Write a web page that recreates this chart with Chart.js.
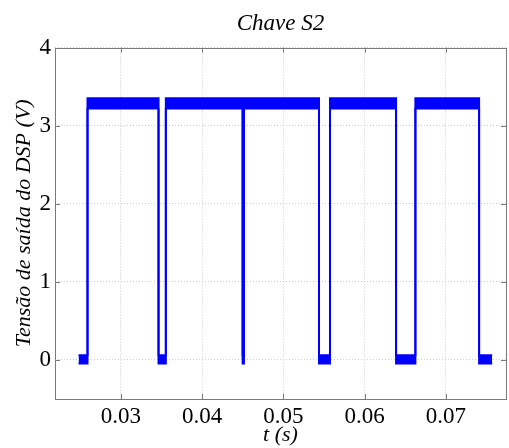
<!DOCTYPE html>
<html>
<head>
<meta charset="utf-8">
<script src="https://cdn.jsdelivr.net/npm/chart.js@4.4.0/dist/chart.umd.min.js"></script>
<style>
  body { margin: 0; background: #fff; }
  #wrap { width: 509px; height: 448px; }
</style>
</head>
<body>
<div id="wrap"><canvas id="chart" width="509" height="448"></canvas></div>
<script>
// switching instants (s)
const tStart = 0.0248
const tEnd = 0.0757
const riseT = [0.0259, 0.03554, 0.04515, 0.05574, 0.06625]
const fallT = [0.03464, 0.04499, 0.05439, 0.06387, 0.07409]

// noise band of each level (V): [bottom, top]
const lowBand = [-0.045, 0.06]
const highBand = [3.22, 3.35]

// axes
const xTicks = [0.03, 0.04, 0.05, 0.06, 0.07]
const yTicks = [0, 1, 2, 3, 4]
const xRange = [0.0219, 0.0774]
const yRange = [-0.5, 4]

const serif = "'Liberation Serif', 'Times New Roman', serif"
const blue = "#0000ff"

// envelope of the pulse train, one for the top edge and one for the bottom edge
const envelope = (k)=>{
  let pts = [{x: tStart, y: lowBand[k]}]
  riseT.forEach((r, i)=>{
    pts.push({x: r, y: lowBand[k]})
    pts.push({x: r, y: highBand[k]})
    pts.push({x: fallT[i], y: highBand[k]})
    pts.push({x: fallT[i], y: lowBand[k]})
  })
  pts.push({x: tEnd, y: lowBand[k]})
  return pts
}

// frame + inward tick marks like matlab
const framePlugin = {
  id: "frame",
  afterDatasetsDraw(chart){
    const {ctx, chartArea: a, scales} = chart
    ctx.save()
    ctx.strokeStyle = "#7a7a7a"
    ctx.lineWidth = 1
    ctx.beginPath()
    xTicks.forEach((v)=>{
      let px = Math.round(scales.x.getPixelForValue(v)) + 0.5
      ctx.moveTo(px, a.bottom); ctx.lineTo(px, a.bottom - 5)
      ctx.moveTo(px, a.top); ctx.lineTo(px, a.top + 5)
    })
    yTicks.forEach((v)=>{
      let py = Math.round(scales.y.getPixelForValue(v)) + 0.5
      ctx.moveTo(a.left, py); ctx.lineTo(a.left + 5, py)
      ctx.moveTo(a.right, py); ctx.lineTo(a.right - 5, py)
    })
    ctx.stroke()
    ctx.strokeRect(Math.round(a.left) + 0.5, Math.round(a.top) + 0.5,
      Math.round(a.right - a.left), Math.round(a.bottom - a.top))
    ctx.restore()
  }
}

new Chart(document.getElementById("chart").getContext("2d"), {
  type: "line",
  data: {
    datasets: [
      {
        data: envelope(1),
        borderColor: blue,
        borderWidth: 2,
        pointRadius: 0,
        fill: false,
        tension: 0,
      },
      {
        data: envelope(0),
        borderColor: blue,
        borderWidth: 2,
        pointRadius: 0,
        backgroundColor: blue,
        fill: "-1",
        tension: 0,
      },
    ]
  },
  options: {
    responsive: false,
    animation: false,
    layout: { padding: { left: 0, right: 3, top: 0, bottom: 0 } },
    scales: {
      x: {
        type: "linear",
        min: xRange[0],
        max: xRange[1],
        afterBuildTicks: (s)=>{ s.ticks = xTicks.map((v)=>({value: v})) },
        afterFit: (s)=>{ s.height = 49 },
        ticks: {
          color: "#000",
          padding: 4,
          maxRotation: 0,
          font: { family: serif, size: 23 },
          callback: (v)=>v.toFixed(2),
        },
        grid: { color: "#cccccc", drawTicks: false },
        border: { display: false, dash: [1, 2] },
        title: {
          display: true,
          text: "t (s)",
          color: "#000",
          font: { family: serif, size: 22, style: "italic" },
          padding: { top: 0, bottom: 0 },
        },
      },
      y: {
        min: yRange[0],
        max: yRange[1],
        afterBuildTicks: (s)=>{ s.ticks = yTicks.map((v)=>({value: v})) },
        afterFit: (s)=>{ s.width = 55 },
        ticks: {
          color: "#000",
          padding: 4,
          font: { family: serif, size: 23 },
        },
        grid: { color: "#cccccc", drawTicks: false },
        border: { display: false, dash: [1, 2] },
        title: {
          display: true,
          text: "Tensão de saída do DSP (V)",
          color: "#000",
          font: { family: serif, size: 22, style: "italic" },
          padding: { top: 11, bottom: 0 },
        },
      },
    },
    plugins: {
      legend: { display: false },
      tooltip: { enabled: false },
      title: {
        display: true,
        fullSize: false,
        text: "Chave S2",
        color: "#000",
        font: { family: serif, size: 23, style: "italic", weight: "normal" },
        padding: { top: 10, bottom: 10 },
      },
    }
  },
  plugins: [framePlugin]
})
</script>
</body>
</html>
